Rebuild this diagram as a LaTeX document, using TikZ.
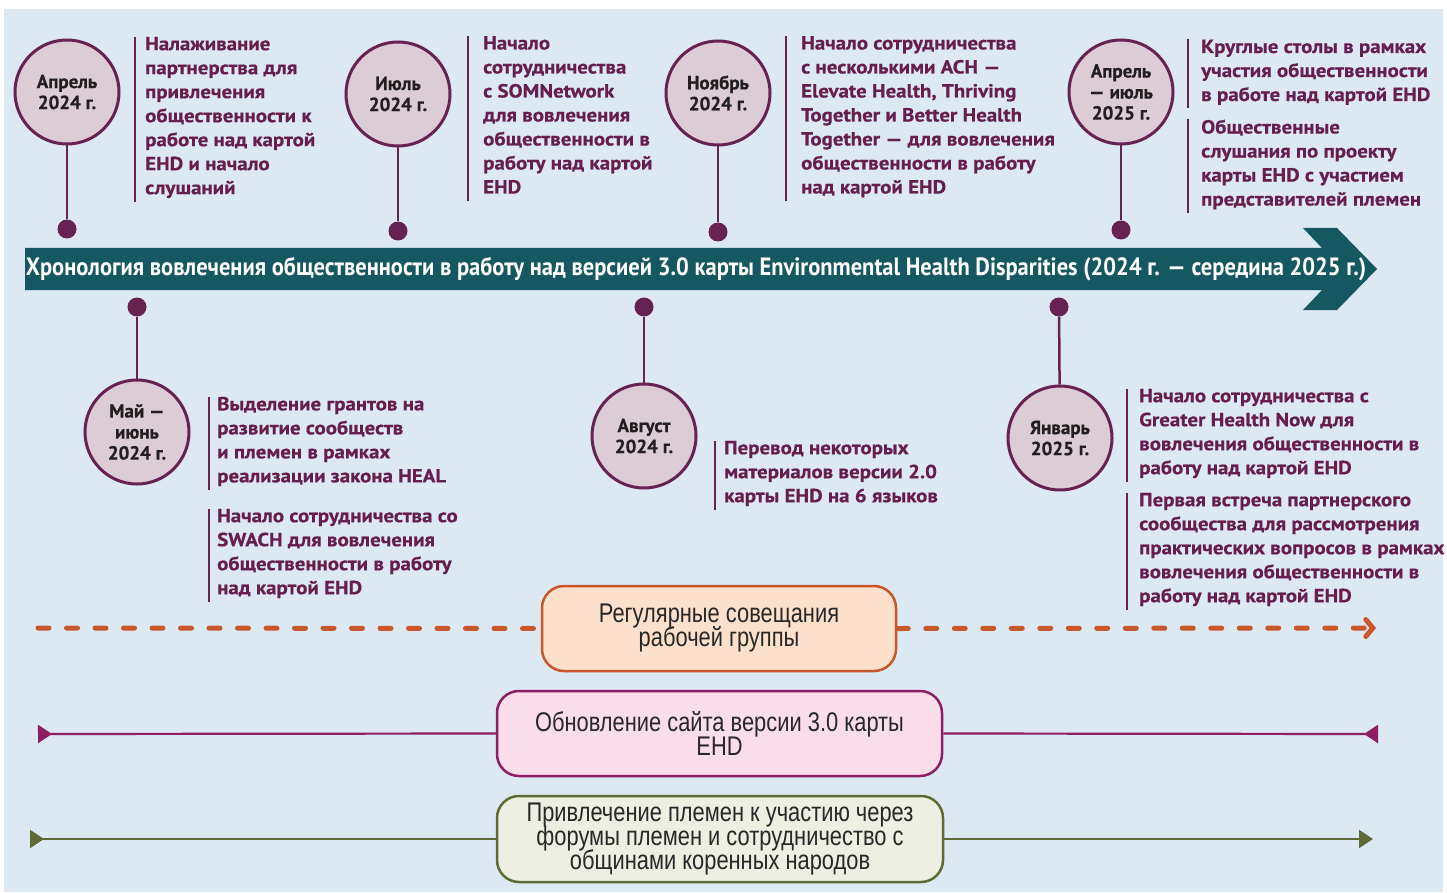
\documentclass[tikz,border=0pt]{standalone}
\usepackage{fontspec}
\setmainfont{Liberation Sans}
\newfontfamily\condfont{PT Sans}[FakeStretch=0.9]
\newfontfamily\datefont{PT Sans}[FakeStretch=1.0, FakeBold=0.5]
\newfontfamily\eventfont{PT Sans}[FakeStretch=1.1, FakeBold=0.5]
\newfontfamily\narrowfont{Liberation Sans}[FakeStretch=0.81]
\newcommand\barfont{\narrowfont\fontsize{27}{24}\selectfont\setlength{\lineskiplimit}{-50pt}}
\usepackage{tikz}
\usetikzlibrary{positioning}
\usetikzlibrary{arrows.meta}
\usetikzlibrary{calc}
\definecolor{bgblue}{RGB}{220,232,242}
\definecolor{bandteal}{RGB}{21,88,97}
\definecolor{plum}{RGB}{102,34,81}
\definecolor{plumfill}{RGB}{219,204,214}
\definecolor{plumtext}{RGB}{102,30,80}
\definecolor{datetext}{RGB}{35,31,32}
\definecolor{meetline}{RGB}{200,88,42}
\definecolor{meetfill}{RGB}{253,224,203}
\definecolor{siteline}{RGB}{142,30,98}
\definecolor{sitefill}{RGB}{250,221,235}
\definecolor{tribeline}{RGB}{95,107,53}
\definecolor{tribefill}{RGB}{236,239,226}
\definecolor{boxtext}{RGB}{40,40,40}

\begin{document}
\begin{tikzpicture}[x=1pt,y=-1pt,
    bar/.style={rounded corners=22pt, line width=2.5pt, align=center, inner sep=0pt,
                text=boxtext, font=\barfont},
    sepline/.style={draw=plum, line width=1.2pt}]
\useasboundingbox (0,0) rectangle (1447,893);
\fill[bgblue] (4,9) rectangle (1443,892);

% timeline band
\fill[bandteal] (25,248) -- (1322,248) -- (1303,228) -- (1337,228) -- (1377,269)
    -- (1337,310) -- (1303,310) -- (1322,290) -- (25,290) -- cycle;
\node[text=white, font=\condfont\bfseries\fontsize{25}{28}\selectfont] (title) at (696,269)
    {Хронология вовлечения общественности в работу над версией 3.0 карты Environmental Health Disparities (2024 г. — середина 2025 г.)};

% dates
\begin{scope}[every node/.style={circle, draw=plum, line width=3pt, fill=plumfill,
              minimum size=104pt, inner sep=0pt, align=center, text=datetext,
              font=\datefont\bfseries\fontsize{19}{21}\selectfont}]
    \node (apr24) at (67,92) {Апрель\\2024 г.};
    \node (jul24) at (398,94) {Июль\\2024 г.};
    \node (nov24) at (718,93) {Ноябрь\\2024 г.};
    \node (apr25) at (1121,92) {Апрель\\— июль\\2025 г.};
    \node (may24) at (137,432) {Май —\\июнь\\2024 г.};
    \node (aug24) at (644,436) {Август\\2024 г.};
    \node (jan25) at (1060,438) {Январь\\2025 г.};
\end{scope}

\begin{scope}[every node/.style={circle, fill=plum, minimum size=19pt, inner sep=0pt}]
    \node (apr24dot) at (67,229) {};
    \node (jul24dot) at (398,231) {};
    \node (nov24dot) at (718,232) {};
    \node (apr25dot) at (1121,230) {};
    \node (may24dot) at (137,307) {};
    \node (aug24dot) at (644,307) {};
    \node (jan25dot) at (1059,307) {};
\end{scope}

\begin{scope}[every edge/.style={draw=plum, line width=2.5pt}]
    \path (apr24) edge (apr24dot);
    \path (jul24) edge (jul24dot);
    \path (nov24) edge (nov24dot);
    \path (apr25) edge (apr25dot);
    \path (may24) edge (may24dot);
    \path (aug24) edge (aug24dot);
    \path (jan25) edge (jan25dot);
\end{scope}

% events
\begin{scope}[every node/.style={anchor=north west, align=left, inner sep=0pt, text=plumtext,
              font=\eventfont\bfseries\fontsize{19}{24}\selectfont,
              execute at begin node=\strut, execute at end node=\strut}]
    \node (apr24ev) at (145,36.7) {Налаживание\\партнерства для\\привлечения\\общественности к\\работе над картой\\EHD и начало\\слушаний};
    \node (jul24ev) at (483,36) {Начало\\сотрудничества\\с SOMNetwork\\для вовлечения\\общественности в\\работу над картой\\EHD};
    \node (nov24ev) at (801,36) {Начало сотрудничества\\с несколькими ACH —\\Elevate Health, Thriving\\Together и Better Health\\Together — для вовлечения\\общественности в работу\\над картой EHD};
    \node (apr25eva) at (1201,39.5) {Круглые столы в рамках\\участия общественности\\в работе над картой EHD};
    \node (apr25evb) at (1201,119.5) {Общественные\\слушания по проекту\\карты EHD с участием\\представителей племен};
    \node (may24eva) at (217,396.7) {Выделение грантов на\\развитие сообществ\\и племен в рамках\\реализации закона HEAL};
    \node (may24evb) at (217,508.7) {Начало сотрудничества со\\SWACH для вовлечения\\общественности в работу\\над картой EHD};
    \node (aug24ev) at (724,440.7) {Перевод некоторых\\материалов версии 2.0\\карты EHD на 6 языков};
    \node (jan25eva) at (1139,388.7) {Начало сотрудничества с\\Greater Health Now для\\вовлечения общественности в\\работу над картой EHD};
    \node (jan25evb) at (1139,492.7) {Первая встреча партнерского\\сообщества для рассмотрения\\практических вопросов в рамках\\вовлечения общественности в\\работу над картой EHD};
\end{scope}

\foreach \ev/\gap in {apr24ev/10, jul24ev/15, nov24ev/15, apr25eva/13, apr25evb/13,
                      may24eva/8, may24evb/8, aug24ev/9, jan25eva/12, jan25evb/12}
    \draw[sepline] ([xshift=-\gap pt]\ev.north west) -- ([xshift=-\gap pt]\ev.south west);

% ongoing work
\node[bar, draw=meetline, fill=meetfill, minimum width=354pt, minimum height=85pt] (meet) at (719,628.5)
    {Регулярные совещания\\рабочей группы};
\node[bar, draw=siteline, fill=sitefill, minimum width=445pt, minimum height=85pt] (site) at (719.5,733.5)
    {Обновление сайта версии 3.0 карты\\EHD};
\node[bar, draw=tribeline, fill=tribefill, minimum width=446pt, minimum height=86pt] (tribe) at (720,839)
    {Привлечение племен к участию через\\форумы племен и сотрудничество с\\общинами коренных народов};

\coordinate (meetL) at (38,628);
\coordinate (meetR) at (1376,628);
\coordinate (siteL) at (38,734);
\coordinate (siteR) at (1378,734);
\coordinate (tribeL) at (30,839);
\coordinate (tribeR) at (1373,839);

\begin{scope}[line width=5pt, line cap=round, draw=meetline, dash pattern=on 11pt off 17.5pt]
    \draw (meetL) -- (meet.west);
    \draw[-{Straight Barb[length=7pt, width=17pt, line cap=round, sep=0pt]}] (meet.east) -- (meetR);
\end{scope}
\draw[draw=siteline, line width=2.2pt, -{Triangle[reversed, length=14pt, width=18pt]}] (site.west) -- (siteL);
\draw[draw=siteline, line width=2.2pt, -{Triangle[reversed, length=14pt, width=18pt]}] (site.east) -- (siteR);
\draw[draw=tribeline, line width=2.2pt, -{Triangle[reversed, length=14pt, width=18pt]}] (tribe.west) -- (tribeL);
\draw[draw=tribeline, line width=2.2pt, -{Triangle[length=14pt, width=18pt]}] (tribe.east) -- (tribeR);
\end{tikzpicture}
\end{document}
